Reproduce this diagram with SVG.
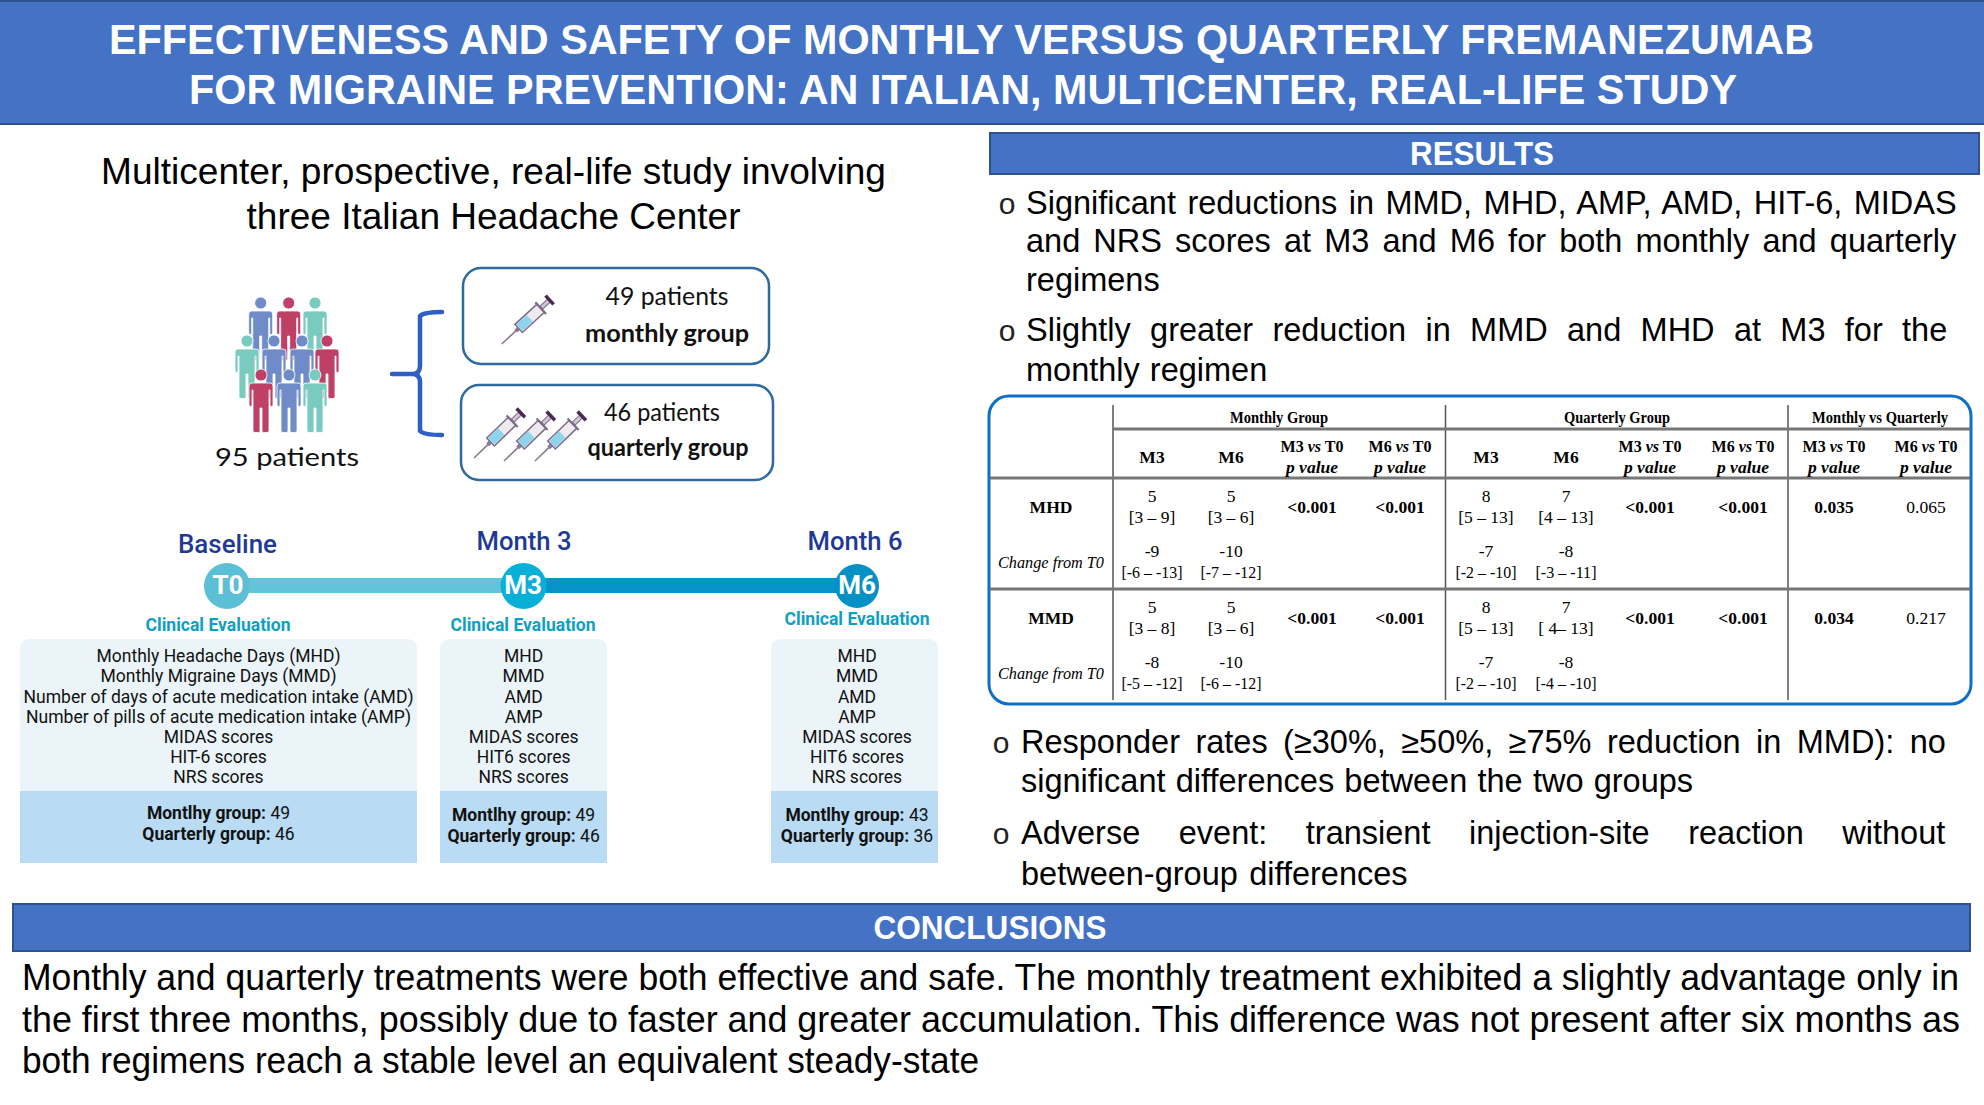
<svg xmlns="http://www.w3.org/2000/svg" xmlns:xlink="http://www.w3.org/1999/xlink" width="1984" height="1105" viewBox="0 0 1984 1105">
<style>
.bar{fill:#4472C4;stroke:#2F528F;stroke-width:2}
.h{font-family:"Liberation Sans",Arial,sans-serif;font-weight:700;fill:#fff;text-anchor:middle}
.b{font-family:"Liberation Sans",Arial,sans-serif;font-size:32.5px;fill:#000}
.c{font-family:"Liberation Sans",Arial,sans-serif;font-size:36.5px;fill:#000}
.s{font-family:"Liberation Sans",Arial,sans-serif;font-size:36px;fill:#000;text-anchor:middle}
.bu{font-family:"Liberation Sans",Arial,sans-serif;font-size:30px;fill:#222;text-anchor:middle}
.l{font-family:Lato,"Open Sans",sans-serif;font-size:25px;fill:#111;text-anchor:middle}
.lb{font-family:Lato,"Open Sans",sans-serif;font-size:25px;font-weight:700;fill:#111;text-anchor:middle}
.box{fill:#fff;stroke:#2E6A9E;stroke-width:2.5}
.mo{font-family:Roboto,sans-serif;font-size:26px;font-weight:500;fill:#1F3A93;text-anchor:middle}
.ci{font-family:Roboto,sans-serif;font-size:26px;font-weight:700;fill:#fff;text-anchor:middle}
.ce{font-family:Roboto,sans-serif;font-size:17.5px;font-weight:700;fill:#0E9FC2;text-anchor:middle}
.p{font-family:Roboto,sans-serif;font-size:17.5px;fill:#111;text-anchor:middle}
.pb{font-weight:700}
.top{fill:#EBF5F9}
.bot{fill:#B9DBF3}
.t{font-family:"Liberation Serif","Times New Roman",serif;font-size:17.5px;fill:#000;text-anchor:middle}
.tb{font-weight:700}
.ti{font-style:italic}
.v{stroke:#555;stroke-width:1.5}
.r{stroke:#777;stroke-width:3}
.pers{stroke:#fff;stroke-width:.8}
</style>
<defs>
<g id="person">
<circle cx="0" cy="0" r="6"/>
<path d="M-9,8H9Q12,8 12,11V30Q12,31.5 10.5,31.5Q9,31.5 9,30V15H8V56Q8,57.5 6,57.5H2.5Q1,57.5 1,56V33H-1V56Q-1,57.5 -2.5,57.5H-6Q-8,57.5 -8,56V15H-9V30Q-9,31.5 -10.5,31.5Q-12,31.5 -12,30V11Q-12,8 -9,8Z"/>
</g>
<g id="syringe">
<path d="M0,0H20" stroke="#8A7A92" stroke-width="1.6" fill="none"/>
<rect x="19" y="-2" width="4" height="4" fill="#8A7A92"/>
<rect x="23" y="-5.5" width="30" height="11" fill="#EFEAF0" stroke="#7D6C88" stroke-width="1.5"/>
<rect x="24" y="-4.5" width="14" height="9" fill="#8ED4EC"/>
<path d="M53,-8V8" stroke="#7D6C88" stroke-width="2.2" fill="none"/>
<rect x="54" y="-2" width="10" height="4" fill="#CFC5D4" stroke="#7D6C88" stroke-width="1"/>
<path d="M65,-6V6" stroke="#4A2A52" stroke-width="3.5" fill="none"/>
</g>
</defs>
<rect width="1984" height="1105" fill="#fff"/>

<g id="title">
<rect class="bar" x="-2" y="1" width="1988" height="123"/>
<text class="h" font-size="43" x="961.5" y="54" textLength="1705" lengthAdjust="spacingAndGlyphs">EFFECTIVENESS AND SAFETY OF MONTHLY VERSUS QUARTERLY FREMANEZUMAB</text>
<text class="h" font-size="43" x="963" y="104" textLength="1548" lengthAdjust="spacingAndGlyphs">FOR MIGRAINE PREVENTION: AN ITALIAN, MULTICENTER, REAL-LIFE STUDY</text>
</g>

<g id="study-text">
<text class="s" x="493.5" y="184" textLength="785" lengthAdjust="spacingAndGlyphs">Multicenter, prospective, real-life study involving</text>
<text class="s" x="493.5" y="229" textLength="494" lengthAdjust="spacingAndGlyphs">three Italian Headache Center</text>
</g>

<g id="patients">
<use href="#person" class="pers" x="260.7" y="303" fill="#6F8CC9"/>
<use href="#person" class="pers" x="288.7" y="303" fill="#BE4067"/>
<use href="#person" class="pers" x="315" y="303" fill="#7ACBBF"/>
<use href="#person" class="pers" x="247" y="341" fill="#7ACBBF"/>
<use href="#person" class="pers" x="327" y="341" fill="#BE4067"/>
<use href="#person" class="pers" x="274" y="341" fill="#6F8CC9"/>
<use href="#person" class="pers" x="302" y="341" fill="#6F8CC9"/>
<use href="#person" class="pers" x="289" y="375" fill="#6F8CC9"/>
<use href="#person" class="pers" x="261" y="375" fill="#BE4067"/>
<use href="#person" class="pers" x="315" y="375" fill="#7ACBBF"/>
<text class="l" x="287" y="466" font-size="28" textLength="144" lengthAdjust="spacingAndGlyphs">95 patients</text>
</g>

<g id="connectors" fill="none">
<path d="M442,312Q424,312 420,316V366Q420,374 412,374H392M412,374Q420,374 420,382V431Q424,435 442,435" stroke="#2F5FC4" stroke-width="4.5" stroke-linecap="round"/>
<rect x="227" y="578" width="297" height="15" fill="#62C3DA"/>
<rect x="524" y="578" width="333" height="15" fill="#0693C8"/>
</g>

<g id="monthly-group">
<rect class="box" x="463" y="268" width="306" height="96" rx="18"/>
<use href="#syringe" transform="translate(501.7,344) rotate(-42.6)"/>
<text class="l" x="667" y="305" textLength="123" lengthAdjust="spacingAndGlyphs">49 patients</text>
<text class="lb" x="667" y="342" textLength="164" lengthAdjust="spacingAndGlyphs">monthly group</text>
</g>
<g id="quarterly-group">
<rect class="box" x="461" y="385" width="312" height="95" rx="18"/>
<use href="#syringe" transform="translate(474,458) rotate(-44)"/>
<use href="#syringe" transform="translate(504,461) rotate(-44)"/>
<use href="#syringe" transform="translate(535,461) rotate(-44)"/>
<text class="l" x="662" y="421" textLength="116" lengthAdjust="spacingAndGlyphs">46 patients</text>
<text class="lb" x="668" y="456" textLength="161" lengthAdjust="spacingAndGlyphs">quarterly group</text>
</g>

<g id="baseline">
<text class="mo" x="227.5" y="553" textLength="99" lengthAdjust="spacingAndGlyphs">Baseline</text>
<circle cx="227" cy="586" r="23" fill="#5BBFD6"/>
<text class="ci" x="228" y="594">T0</text>
<text class="ce" x="218" y="631" textLength="145" lengthAdjust="spacingAndGlyphs">Clinical Evaluation</text>
<path class="top" d="M20,791V649Q20,639 30,639H407Q417,639 417,649V791Z"/>
<rect class="bot" x="20" y="791" width="397" height="72"/>
<text class="p" x="218.5" y="662" textLength="244" lengthAdjust="spacingAndGlyphs">Monthly Headache Days (MHD)</text>
<text class="p" x="218.5" y="682" textLength="236" lengthAdjust="spacingAndGlyphs">Monthly Migraine Days (MMD)</text>
<text class="p" x="218.5" y="702.5" textLength="390" lengthAdjust="spacingAndGlyphs">Number of days of acute medication intake (AMD)</text>
<text class="p" x="218.5" y="722.5" textLength="385" lengthAdjust="spacingAndGlyphs">Number of pills of acute medication intake (AMP)</text>
<text class="p" x="218.5" y="743">MIDAS scores</text>
<text class="p" x="218.5" y="763">HIT-6 scores</text>
<text class="p" x="218.5" y="783">NRS scores</text>
<text class="p" x="218.5" y="819"><tspan class="pb">Montlhy group:</tspan> 49</text>
<text class="p" x="218.5" y="840"><tspan class="pb">Quarterly group:</tspan> 46</text>
</g>

<g id="month-3">
<text class="mo" x="524" y="550" textLength="95" lengthAdjust="spacingAndGlyphs">Month 3</text>
<circle cx="523.6" cy="586" r="23" fill="#08B0D8"/>
<text class="ci" x="523" y="594">M3</text>
<text class="ce" x="523" y="631" textLength="145" lengthAdjust="spacingAndGlyphs">Clinical Evaluation</text>
<path class="top" d="M440,791V649Q440,639 450,639H597Q607,639 607,649V791Z"/>
<rect class="bot" x="440" y="791" width="167" height="72"/>
<text class="p" x="523.6" y="662">MHD</text>
<text class="p" x="523.6" y="682">MMD</text>
<text class="p" x="523.6" y="702.5">AMD</text>
<text class="p" x="523.6" y="722.5">AMP</text>
<text class="p" x="523.6" y="743">MIDAS scores</text>
<text class="p" x="523.6" y="763">HIT6 scores</text>
<text class="p" x="523.6" y="783">NRS scores</text>
<text class="p" x="523.6" y="821"><tspan class="pb">Montlhy group:</tspan> 49</text>
<text class="p" x="523.6" y="842"><tspan class="pb">Quarterly group:</tspan> 46</text>
</g>

<g id="month-6">
<text class="mo" x="855" y="550" textLength="95" lengthAdjust="spacingAndGlyphs">Month 6</text>
<circle cx="857" cy="586" r="22" fill="#0590C6"/>
<text class="ci" x="857" y="594">M6</text>
<text class="ce" x="857" y="625" textLength="145" lengthAdjust="spacingAndGlyphs">Clinical Evaluation</text>
<path class="top" d="M771,791V649Q771,639 781,639H928Q938,639 938,649V791Z"/>
<rect class="bot" x="771" y="791" width="167" height="72"/>
<text class="p" x="857" y="662">MHD</text>
<text class="p" x="857" y="682">MMD</text>
<text class="p" x="857" y="702.5">AMD</text>
<text class="p" x="857" y="722.5">AMP</text>
<text class="p" x="857" y="743">MIDAS scores</text>
<text class="p" x="857" y="763">HIT6 scores</text>
<text class="p" x="857" y="783">NRS scores</text>
<text class="p" x="857" y="821"><tspan class="pb">Montlhy group:</tspan> 43</text>
<text class="p" x="857" y="842"><tspan class="pb">Quarterly group:</tspan> 36</text>
</g>

<g id="results-header">
<rect class="bar" x="990" y="133" width="989" height="41"/>
<text class="h" font-size="33" x="1482" y="165" textLength="144" lengthAdjust="spacingAndGlyphs">RESULTS</text>
</g>

<g id="results-top">
<text class="bu" x="1007" y="214">o</text>
<text class="b" x="1026" y="214" word-spacing="2.4">Significant reductions in MMD, MHD, AMP, AMD, HIT-6, MIDAS</text>
<text class="b" x="1026" y="252" word-spacing="4.1">and NRS scores at M3 and M6 for both monthly and quarterly</text>
<text class="b" x="1026" y="291">regimens</text>
<text class="bu" x="1007" y="341">o</text>
<text class="b" x="1026" y="341" word-spacing="10.3">Slightly greater reduction in MMD and MHD at M3 for the</text>
<text class="b" x="1026" y="381" word-spacing="1">monthly regimen</text>
</g>

<g id="results-table">
<rect x="989" y="396" width="982" height="308" rx="20" fill="#fff" stroke="#0F6FC6" stroke-width="3"/>
<path class="v" d="M1113,405V700M1445.5,405V700M1788,405V700"/>
<path class="r" d="M1113,429H1970M990,478H1970M990,589H1970"/>
<g class="t tb">
<text x="1279" y="423" textLength="98" lengthAdjust="spacingAndGlyphs">Monthly Group</text><text x="1617" y="423" textLength="106" lengthAdjust="spacingAndGlyphs">Quarterly Group</text><text x="1880" y="423" textLength="136" lengthAdjust="spacingAndGlyphs">Monthly vs Quarterly</text>
<text x="1152" y="463">M3</text><text x="1231" y="463">M6</text><text x="1486" y="463">M3</text><text x="1566" y="463">M6</text>
<text x="1312" y="452" textLength="63" lengthAdjust="spacingAndGlyphs">M3 <tspan class="ti">vs</tspan> T0</text><text x="1400" y="452" textLength="63" lengthAdjust="spacingAndGlyphs">M6 <tspan class="ti">vs</tspan> T0</text>
<text x="1650" y="452" textLength="63" lengthAdjust="spacingAndGlyphs">M3 <tspan class="ti">vs</tspan> T0</text><text x="1743" y="452" textLength="63" lengthAdjust="spacingAndGlyphs">M6 <tspan class="ti">vs</tspan> T0</text>
<text x="1834" y="452" textLength="63" lengthAdjust="spacingAndGlyphs">M3 <tspan class="ti">vs</tspan> T0</text><text x="1926" y="452" textLength="63" lengthAdjust="spacingAndGlyphs">M6 <tspan class="ti">vs</tspan> T0</text>
<g class="ti"><text x="1312" y="473">p value</text><text x="1400" y="473">p value</text><text x="1650" y="473">p value</text><text x="1743" y="473">p value</text><text x="1834" y="473">p value</text><text x="1926" y="473">p value</text></g>
<text x="1051" y="513">MHD</text><text x="1051" y="624">MMD</text>
<text x="1312" y="513">&lt;0.001</text><text x="1400" y="513">&lt;0.001</text><text x="1650" y="513">&lt;0.001</text><text x="1743" y="513">&lt;0.001</text><text x="1834" y="513">0.035</text>
<text x="1312" y="624">&lt;0.001</text><text x="1400" y="624">&lt;0.001</text><text x="1650" y="624">&lt;0.001</text><text x="1743" y="624">&lt;0.001</text><text x="1834" y="624">0.034</text>
</g>
<g class="t">
<text x="1926" y="513">0.065</text><text x="1926" y="624">0.217</text>
<text class="t ti" x="1051" y="568" textLength="106" lengthAdjust="spacingAndGlyphs">Change from T0</text><text class="t ti" x="1051" y="679" textLength="106" lengthAdjust="spacingAndGlyphs">Change from T0</text>
<text x="1152" y="502">5</text><text x="1152" y="523">[3 – 9]</text><text x="1231" y="502">5</text><text x="1231" y="523">[3 – 6]</text>
<text x="1486" y="502">8</text><text x="1486" y="523">[5 – 13]</text><text x="1566" y="502">7</text><text x="1566" y="523">[4 – 13]</text>
<text x="1152" y="557">-9</text><text x="1152" y="578" textLength="61" lengthAdjust="spacingAndGlyphs">[-6 – -13]</text><text x="1231" y="557">-10</text><text x="1231" y="578" textLength="61" lengthAdjust="spacingAndGlyphs">[-7 – -12]</text>
<text x="1486" y="557">-7</text><text x="1486" y="578" textLength="61" lengthAdjust="spacingAndGlyphs">[-2 – -10]</text><text x="1566" y="557">-8</text><text x="1566" y="578" textLength="61" lengthAdjust="spacingAndGlyphs">[-3 – -11]</text>
<text x="1152" y="613">5</text><text x="1152" y="634">[3 – 8]</text><text x="1231" y="613">5</text><text x="1231" y="634">[3 – 6]</text>
<text x="1486" y="613">8</text><text x="1486" y="634">[5 – 13]</text><text x="1566" y="613">7</text><text x="1566" y="634">[ 4– 13]</text>
<text x="1152" y="668">-8</text><text x="1152" y="689" textLength="61" lengthAdjust="spacingAndGlyphs">[-5 – -12]</text><text x="1231" y="668">-10</text><text x="1231" y="689" textLength="61" lengthAdjust="spacingAndGlyphs">[-6 – -12]</text>
<text x="1486" y="668">-7</text><text x="1486" y="689" textLength="61" lengthAdjust="spacingAndGlyphs">[-2 – -10]</text><text x="1566" y="668">-8</text><text x="1566" y="689" textLength="61" lengthAdjust="spacingAndGlyphs">[-4 – -10]</text>
</g>
</g>

<g id="results-bottom">
<text class="bu" x="1001" y="753">o</text>
<text class="b" x="1021" y="753" word-spacing="6.4">Responder rates (≥30%, ≥50%, ≥75% reduction in MMD): no</text>
<text class="b" x="1021" y="792" word-spacing="1.2">significant differences between the two groups</text>
<text class="bu" x="1001" y="844">o</text>
<text class="b" x="1021" y="844" word-spacing="29.5">Adverse event: transient injection-site reaction without</text>
<text class="b" x="1021" y="885" word-spacing="2.3">between-group differences</text>
</g>

<g id="conclusions">
<rect class="bar" x="13" y="904" width="1957" height="47"/>
<text class="h" font-size="33" x="990" y="939" textLength="233" lengthAdjust="spacingAndGlyphs">CONCLUSIONS</text>
<text class="c" x="22" y="990" textLength="1937" lengthAdjust="spacingAndGlyphs">Monthly and quarterly treatments were both effective and safe. The monthly treatment exhibited a slightly advantage only in</text>
<text class="c" x="22" y="1032" textLength="1938" lengthAdjust="spacingAndGlyphs">the first three months, possibly due to faster and greater accumulation. This difference was not present after six months as</text>
<text class="c" x="22" y="1073" textLength="957" lengthAdjust="spacingAndGlyphs">both regimens reach a stable level an equivalent steady-state</text>
</g>
</svg>
